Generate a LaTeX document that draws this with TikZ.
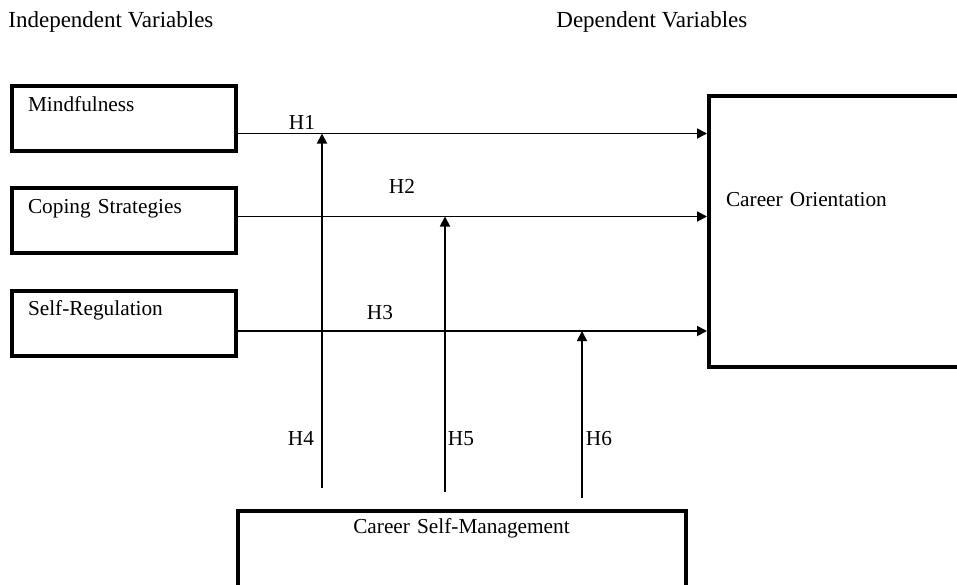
\documentclass[tikz,border=0pt]{standalone}
\usepackage{fontspec}
\setmainfont{Liberation Serif}
\usetikzlibrary{arrows.meta}

\begin{document}
\begin{tikzpicture}[
  x=0.5pt, y=-0.5pt,
  var/.style={draw, line width=2pt, anchor=north west, align=left,
    inner xsep=8pt, inner ysep=0pt, text width=95.75pt,
    text height=12.5pt, text depth=20pt, font=\fontsize{10.65pt}{12pt}\selectfont},
  head/.style={anchor=base west, inner sep=0pt, font=\fontsize{11.5pt}{13pt}\selectfont},
  hyp/.style={anchor=base, inner sep=0pt, font=\fontsize{10.65pt}{12pt}\selectfont},
  edge/.style={-{Triangle[length=5pt, width=5pt]}, line width=0.9pt}
]
  \useasboundingbox (0,0) rectangle (957,584);
  \clip (0,0) rectangle (957,584);

  \node[head] (indep) at (8,27) {Independent Variables};
  \node[head] (dep) at (556,27) {Dependent Variables};

  \node[var] (mind) at (10,84) {Mindfulness};
  \node[var] (cope) at (10,186) {Coping Strategies};
  \node[var] (selfreg) at (10,288.5) {Self-Regulation};
  \node[var, text width=116pt, inner xsep=8.5pt, text height=55pt, text depth=80.5pt]
    (orient) at (707,94) {Career Orientation};
  \node[var, align=center, text width=208pt, text height=11.25pt, text depth=33.5pt]
    (csm) at (235.5,508.5) {Career Self-Management};

  \coordinate (j1) at (322,133.5);
  \coordinate (j2) at (445,216.5);
  \coordinate (j3) at (582,331);
  \coordinate (s1) at (322,488);
  \coordinate (s2) at (445,492);
  \coordinate (s3) at (582,498);

  \draw[edge] (mind.east |- j1) -- (orient.west |- j1);
  \draw[edge] (cope.east |- j2) -- (orient.west |- j2);
  \draw[edge] (selfreg.east |- j3) -- (orient.west |- j3);

  \draw[edge] (s1) -- (j1);
  \draw[edge] (s2) -- (j2);
  \draw[edge] (s3) -- (j3);

  \node[hyp] (h1) at (302,129) {H1};
  \node[hyp] (h2) at (402,193) {H2};
  \node[hyp] (h3) at (380,319) {H3};
  \node[hyp] (h4) at (301,445) {H4};
  \node[hyp] (h5) at (461,445) {H5};
  \node[hyp] (h6) at (599,445) {H6};
\end{tikzpicture}
\end{document}
